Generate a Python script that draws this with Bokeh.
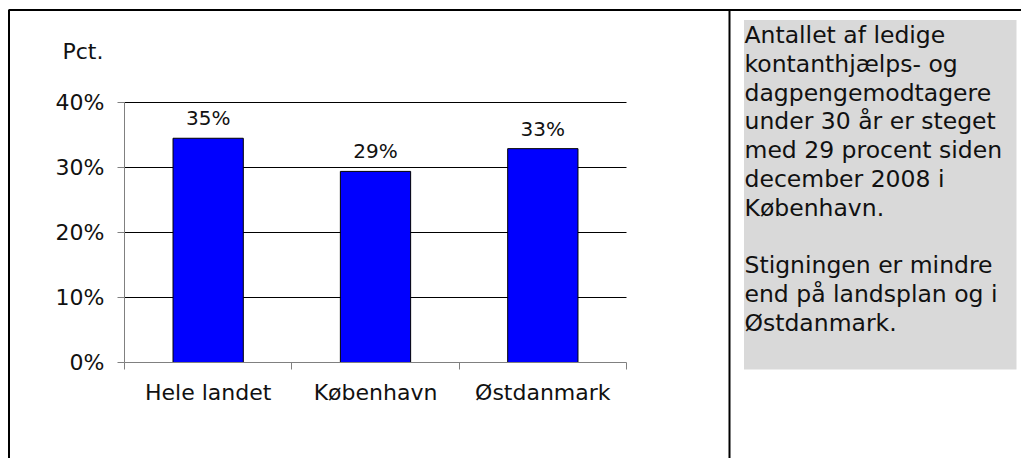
from bokeh.plotting import figure
from bokeh.models import (ColumnDataSource, Range1d, FixedTicker, PrintfTickFormatter, Label)
from bokeh.core.properties import value
from bokeh.embed import file_html
from bokeh.resources import INLINE

# ---- data ----
categories = ["Hele landet", "København", "Østdanmark"]
values = [34.5, 29.4, 32.9]
value_labels = ["35%", "29%", "33%"]
y_ticks = [0, 10, 20, 30, 40]
y_label = "Pct."
note_lines = [
    "Antallet af ledige",
    "kontanthjælps- og",
    "dagpengemodtagere",
    "under 30 år er steget",
    "med 29 procent siden",
    "december 2008 i",
    "København.",
    "",
    "Stigningen er mindre",
    "end på landsplan og i",
    "Østdanmark.",
]

FONT = "DejaVu Sans"
W, H = 1021, 458
# where the value area sits on the canvas (px)
PL, PR, PT, PB = 124.0, 626.0, 102.0, 362.0
YMAX = 40.0
ncat = len(categories)

kx = (PR - PL) / ncat          # px per category
ky = (PB - PT) / YMAX          # px per percent
x_range = Range1d(-PL / kx, (W - PL) / kx)
y_range = Range1d(-(H - PB) / ky, PB / ky)

positions = [i + 0.5 for i in range(ncat)]
src = ColumnDataSource(dict(x=positions, top=values, lab=value_labels))

p = figure(width=W, height=H, output_backend="svg", toolbar_location=None,
           x_range=x_range, y_range=y_range,
           min_border=0, min_border_left=0, min_border_right=0,
           min_border_top=0, min_border_bottom=0)
p.title.visible = False
p.outline_line_color = None
p.background_fill_color = "white"
p.border_fill_color = "white"
p.xgrid.visible = False
p.ygrid.visible = False

# pixel ranges for the page decoration
p.extra_x_ranges = {"px": Range1d(0, W)}
p.extra_y_ranges = {"px": Range1d(H, 0)}

# outer border, divider, grey note panel
p.quad(left=[8.5], right=[W + 50], top=[9.5], bottom=[H + 50],
       x_range_name="px", y_range_name="px",
       fill_alpha=0, line_color="black", line_width=2)
p.quad(left=[728], right=[730], top=[9.5], bottom=[H + 50],
       x_range_name="px", y_range_name="px",
       fill_color="black", line_color=None)
p.quad(left=[743.5], right=[1016], top=[19.5], bottom=[369],
       x_range_name="px", y_range_name="px",
       fill_color="#d9d9d9", line_color=None)

# horizontal gridlines across the category span
grid_y = [t for t in y_ticks if t > 0]
p.segment(x0=[0] * len(grid_y), x1=[ncat] * len(grid_y), y0=grid_y, y1=grid_y,
          line_color="black", line_width=1)

# bars and value labels
p.vbar(x="x", top="top", width=0.42, source=src, fill_color="#0000ff",
       line_color="black", line_width=1)
p.text(x="x", y="top", text="lab", source=src, y_offset=-20,
       text_align="center", text_baseline="alphabetic",
       text_font=value(FONT), text_font_size="20px", text_color="#111111")

# y axis, fixed at x = 0
ya = p.yaxis[0]
ya.fixed_location = 0
ya.bounds = (0, YMAX)
ya.ticker = FixedTicker(ticks=y_ticks)
ya.formatter = PrintfTickFormatter(format="%d%%")
ya.axis_line_color = "#808080"
ya.major_tick_line_color = "#808080"
ya.major_tick_out = 7
ya.major_tick_in = 0
ya.minor_tick_line_color = None
ya.major_label_standoff = 13
ya.major_label_text_font = FONT
ya.major_label_text_font_size = "22px"
ya.major_label_text_color = "#111111"

# x axis, fixed at y = 0: labels at category centres, ticks at category boundaries
xa = p.xaxis[0]
xa.fixed_location = 0
xa.bounds = (0, ncat)
xa.ticker = FixedTicker(ticks=positions, minor_ticks=list(range(ncat + 1)))
xa.major_label_overrides = {pos: cat for pos, cat in zip(positions, categories)}
xa.axis_line_color = "#808080"
xa.major_tick_line_color = None
xa.major_tick_out = 0
xa.major_tick_in = 0
xa.minor_tick_line_color = "#808080"
xa.minor_tick_out = 7
xa.minor_tick_in = 0
xa.major_label_standoff = 10
xa.major_label_text_font = FONT
xa.major_label_text_font_size = "22px"
xa.major_label_text_color = "#111111"

# "Pct." label
p.add_layout(Label(x=62, y=51, x_range_name="px", y_range_name="px", text=y_label,
                   text_font=FONT, text_font_size="22px", text_color="#111111",
                   text_baseline="alphabetic", text_align="left"))

# note text
for i, line in enumerate(note_lines):
    if not line:
        continue
    p.add_layout(Label(x=744, y=34.5 + 28.8 * i, x_range_name="px", y_range_name="px",
                       text=line, text_font=FONT, text_font_size="23.5px",
                       text_color="#111111", text_baseline="alphabetic", text_align="left"))

open("out.html", "w").write(file_html(p, INLINE))
